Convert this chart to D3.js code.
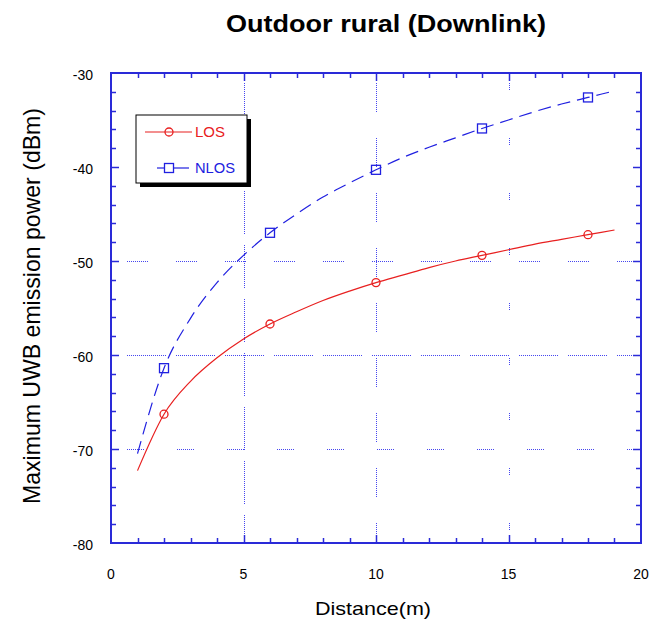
<!DOCTYPE html>
<html>
<head>
<meta charset="utf-8">
<script src="https://cdn.jsdelivr.net/npm/d3@7"></script>
<style>
  body { margin: 0; background: #fff; }
  text { font-family: "Liberation Sans", Arial, sans-serif; }
</style>
</head>
<body>
<script>
// data
var distance = [1, 2, 3, 4, 5, 6, 7, 8, 9, 10, 11, 12, 13, 14, 15, 16, 17, 18, 19];
var losPower = [-72.3, -66.3, -62.8, -60.3, -58.3, -56.7, -55.4, -54.2, -53.2, -52.3,
                -51.5, -50.7, -50.0, -49.4, -48.8, -48.2, -47.7, -47.2, -46.7];
var nlosPower = [-70.5, -61.4, -56.1, -52.3, -49.4, -47.0, -45.0, -43.2, -41.7, -40.3,
                 -39.0, -37.9, -36.9, -35.9, -35.0, -34.1, -33.3, -32.6, -31.9];
var markerDistance = [2, 6, 10, 14, 18];
var xTicks = [0, 5, 10, 15, 20];
var yTicks = [-80, -70, -60, -50, -40, -30];
var xGrid = [5, 10, 15];
var yGrid = [-70, -60, -50];

drawChart();

function drawChart(){
    var width = 656, height = 620;
    var pLeft = 111, pRight = 641, pTop = 73, pBottom = 543;
    var axisBlue = "#2a2ad8";
    var gridBlue = "#4646f0";

    var svg = d3.select("body").append("svg")
        .attr("width", width)
        .attr("height", height);

    var x = d3.scaleLinear().domain([0, 20]).range([pLeft, pRight]);
    var y = d3.scaleLinear().domain([-80, -30]).range([pBottom, pTop]);

    //dotted-segment dash patterns like the old plotting tool
    function dotPattern(seg, gap) {
        var a = [];
        for (var i = 0; i < seg / 2; i++) a.push(1, 1);
        a.push(0, gap);
        return a.join(",");
    }
    var vPat = {5: [44, 10], 10: [30, 25], 15: [8, 47]};
    var hPat = {"-50": [22, 27], "-60": [40, 9], "-70": [17, 32]};

    svg.selectAll(".vgrid").data(xGrid).enter().append("line")
        .attr("class", "vgrid")
        .attr("x1", function(d){ return Math.round(x(d)) + 0.5; })
        .attr("x2", function(d){ return Math.round(x(d)) + 0.5; })
        .attr("y1", pTop + 10).attr("y2", pBottom)
        .attr("stroke", gridBlue).attr("stroke-width", 1)
        .attr("shape-rendering", "crispEdges")
        .attr("stroke-dasharray", function(d){ return dotPattern(vPat[d][0], vPat[d][1]); });

    svg.selectAll(".hgrid").data(yGrid).enter().append("line")
        .attr("class", "hgrid")
        .attr("y1", function(d){ return Math.round(y(d)) + 0.5; })
        .attr("y2", function(d){ return Math.round(y(d)) + 0.5; })
        .attr("x1", pLeft + 16).attr("x2", pRight)
        .attr("stroke", gridBlue).attr("stroke-width", 1)
        .attr("shape-rendering", "crispEdges")
        .attr("stroke-dasharray", function(d){ return dotPattern(hPat[d][0], hPat[d][1]); });

    // frame with ticks on all four sides (inward)
    svg.append("rect")
        .attr("x", pLeft).attr("y", pTop)
        .attr("width", pRight - pLeft).attr("height", pBottom - pTop)
        .attr("fill", "none").attr("stroke", axisBlue).attr("stroke-width", 2);

    var xMinor = d3.range(1, 20);
    var yMinor = d3.range(-78, -30, 2);

    function tickLen(major) { return major ? 8 : 5; }

    svg.selectAll(".xt").data(xMinor).enter().append("g").each(function(d){
        var g = d3.select(this), len = tickLen(d % 5 === 0), px = Math.round(x(d)) + 0.5;
        g.append("line").attr("x1", px).attr("x2", px).attr("y1", pBottom).attr("y2", pBottom - len);
        g.append("line").attr("x1", px).attr("x2", px).attr("y1", pTop).attr("y2", pTop + len);
    }).selectAll("line").attr("stroke", axisBlue).attr("stroke-width", 1.5);

    svg.selectAll(".yt").data(yMinor).enter().append("g").each(function(d){
        var g = d3.select(this), len = tickLen(d % 10 === 0), py = Math.round(y(d)) + 0.5;
        g.append("line").attr("y1", py).attr("y2", py).attr("x1", pLeft).attr("x2", pLeft + len);
        g.append("line").attr("y1", py).attr("y2", py).attr("x1", pRight).attr("x2", pRight - len);
    }).selectAll("line").attr("stroke", axisBlue).attr("stroke-width", 1.5);

    // tick labels
    svg.selectAll(".xl").data(xTicks).enter().append("text")
        .attr("x", function(d){ return x(d); })
        .attr("y", 579)
        .attr("text-anchor", "middle")
        .attr("font-size", 14)
        .text(function(d){ return d; });

    svg.selectAll(".yl").data(yTicks).enter().append("text")
        .attr("x", 93)
        .attr("y", function(d){ return y(d) + 7; })
        .attr("text-anchor", "end")
        .attr("font-size", 14)
        .text(function(d){ return d; });

    // titles
    svg.append("text")
        .attr("x", 386).attr("y", 32)
        .attr("text-anchor", "middle")
        .attr("font-size", 23).attr("font-weight", "bold")
        .attr("textLength", 320).attr("lengthAdjust", "spacingAndGlyphs")
        .text("Outdoor rural (Downlink)");

    svg.append("text")
        .attr("x", 373).attr("y", 615)
        .attr("text-anchor", "middle")
        .attr("font-size", 19)
        .attr("textLength", 116).attr("lengthAdjust", "spacingAndGlyphs")
        .text("Distance(m)");

    svg.append("text")
        .attr("transform", "translate(40,306) rotate(-90)")
        .attr("text-anchor", "middle")
        .attr("font-size", 24)
        .attr("textLength", 396).attr("lengthAdjust", "spacingAndGlyphs")
        .text("Maximum UWB emission power (dBm)");

    // series
    var line = d3.line()
        .x(function(d){ return x(d[0]); })
        .y(function(d){ return y(d[1]); })
        .curve(d3.curveMonotoneX);

    var losData = d3.zip(distance, losPower);
    var nlosData = d3.zip(distance, nlosPower);

    svg.append("path").datum(nlosData)
        .attr("d", line).attr("fill", "none")
        .attr("stroke", "#2020e0").attr("stroke-width", 1.2)
        .attr("stroke-dasharray", "13,7");

    svg.append("path").datum(losData)
        .attr("d", line).attr("fill", "none")
        .attr("stroke", "#e82020").attr("stroke-width", 1.2);

    function valueAt(arr, d) { return arr[distance.indexOf(d)]; }

    svg.selectAll(".losm").data(markerDistance).enter().append("circle")
        .attr("cx", function(d){ return x(d); })
        .attr("cy", function(d){ return y(valueAt(losPower, d)); })
        .attr("r", 4)
        .attr("fill", "none").attr("stroke", "#e82020").attr("stroke-width", 1.3);

    svg.selectAll(".nlosm").data(markerDistance).enter().append("rect")
        .attr("x", function(d){ return x(d) - 4.5; })
        .attr("y", function(d){ return y(valueAt(nlosPower, d)) - 4.5; })
        .attr("width", 9).attr("height", 9)
        .attr("fill", "none").attr("stroke", "#2020e0").attr("stroke-width", 1.3);

    // legend
    var lg = svg.append("g");
    lg.append("rect").attr("x", 140).attr("y", 119).attr("width", 111).attr("height", 68).attr("fill", "#000");
    lg.append("rect").attr("x", 136).attr("y", 115).attr("width", 111).attr("height", 68)
        .attr("fill", "#fff").attr("stroke", "#000").attr("stroke-width", 1);

    lg.append("line").attr("x1", 145).attr("x2", 192).attr("y1", 132).attr("y2", 132)
        .attr("stroke", "#e82020").attr("stroke-width", 1.2);
    lg.append("circle").attr("cx", 169).attr("cy", 132).attr("r", 4)
        .attr("fill", "none").attr("stroke", "#e82020").attr("stroke-width", 1.3);
    lg.append("text").attr("x", 195).attr("y", 137).attr("font-size", 15)
        .attr("textLength", 30).attr("lengthAdjust", "spacingAndGlyphs")
        .attr("fill", "#e82020").text("LOS");

    lg.append("line").attr("x1", 157).attr("x2", 189).attr("y1", 168).attr("y2", 168)
        .attr("stroke", "#2020e0").attr("stroke-width", 1.2);
    lg.append("rect").attr("x", 164.5).attr("y", 163.5).attr("width", 9).attr("height", 9)
        .attr("fill", "#fff").attr("stroke", "#2020e0").attr("stroke-width", 1.3);
    lg.append("text").attr("x", 195).attr("y", 173).attr("font-size", 15)
        .attr("textLength", 40).attr("lengthAdjust", "spacingAndGlyphs")
        .attr("fill", "#2020e0").text("NLOS");
}
</script>
</body>
</html>
